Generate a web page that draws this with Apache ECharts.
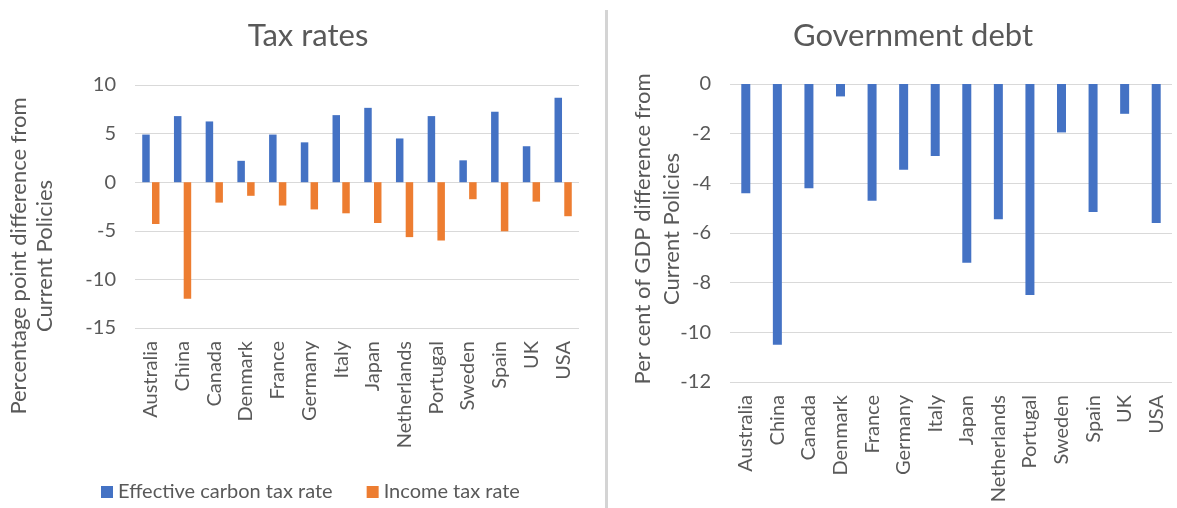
<!DOCTYPE html>
<html>
<head>
<meta charset="utf-8">
<script src="https://cdn.jsdelivr.net/npm/echarts@6/dist/echarts.min.js"></script>
<style>
  html, body { margin: 0; padding: 0; background: #fff; }
  #chart { width: 1177px; height: 508px; }
</style>
</head>
<body>
<div id="chart"></div>
<script>
// Countries shared by both panels
const countries = ['Australia', 'China', 'Canada', 'Denmark', 'France', 'Germany', 'Italy',
  'Japan', 'Netherlands', 'Portugal', 'Sweden', 'Spain', 'UK', 'USA'];

// Tax rates, percentage point difference from Current Policies
const carbonTax = [4.9, 6.8, 6.25, 2.2, 4.9, 4.1, 6.9, 7.65, 4.5, 6.8, 2.25, 7.25, 3.7, 8.7];
const incomeTax = [-4.3, -12.0, -2.1, -1.4, -2.4, -2.8, -3.2, -4.2, -5.65, -6.0, -1.75, -5.05, -2.0, -3.5];

// Government debt, per cent of GDP difference from Current Policies
const govDebt = [-4.4, -10.5, -4.2, -0.5, -4.7, -3.45, -2.9, -7.2, -5.45, -8.5, -1.95, -5.15, -1.2, -5.6];

const seriesNames = ['Effective carbon tax rate', 'Income tax rate'];
const panelTitles = ['Tax rates', 'Government debt'];
const axisTitles = [
  'Percentage point difference from\nCurrent Policies',
  'Per cent of GDP difference from\nCurrent Policies'
];

const BLUE = '#4472C4';
const ORANGE = '#ED7D31';
const TEXT = '#595959';
const FONT = 'Lato';

const chart = echarts.init(document.getElementById('chart'), null, { renderer: 'canvas' });

const catAxis = (gridIndex) => ({
  type: 'category',
  gridIndex,
  data: countries,
  axisLine: { show: false, onZero: false },
  axisTick: { show: false },
  axisLabel: { rotate: 90, color: TEXT, fontSize: 20, fontFamily: FONT, margin: 13, interval: 0 },
  splitLine: { show: false }
});

const valAxis = (gridIndex, min, max, interval) => ({
  type: 'value',
  gridIndex,
  min, max, interval,
  axisLine: { show: false },
  axisTick: { show: false },
  axisLabel: { color: TEXT, fontSize: 20, fontFamily: FONT, margin: 19 },
  splitLine: { lineStyle: { color: '#d9d9d9', width: 1 } }
});

chart.setOption({
  backgroundColor: '#ffffff',
  animation: false,
  textStyle: { fontFamily: FONT },
  title: [
    { text: panelTitles[0], left: 303, top: 15, textAlign: 'center',
      textStyle: { fontSize: 31, fontWeight: 'normal', color: TEXT, fontFamily: FONT } },
    { text: panelTitles[1], left: 908, top: 15, textAlign: 'center',
      textStyle: { fontSize: 31, fontWeight: 'normal', color: TEXT, fontFamily: FONT } }
  ],
  legend: {
    data: seriesNames,
    left: 96,
    top: 477,
    icon: 'rect',
    itemWidth: 12,
    itemHeight: 12,
    itemGap: 34,
    textStyle: { color: TEXT, fontSize: 20, fontFamily: FONT }
  },
  grid: [
    { left: 135, top: 85, width: 444, height: 243 },
    { left: 730, top: 84, width: 442, height: 298 }
  ],
  xAxis: [catAxis(0), catAxis(1)],
  yAxis: [valAxis(0, -15, 10, 5), valAxis(1, -12, 0, 2)],
  series: [
    { name: seriesNames[0], type: 'bar', xAxisIndex: 0, yAxisIndex: 0, data: carbonTax,
      itemStyle: { color: BLUE }, barWidth: 7.5, barGap: '30%' },
    { name: seriesNames[1], type: 'bar', xAxisIndex: 0, yAxisIndex: 0, data: incomeTax,
      itemStyle: { color: ORANGE }, barWidth: 7.5, barGap: '30%' },
    { name: 'Government debt', type: 'bar', xAxisIndex: 1, yAxisIndex: 1, data: govDebt,
      itemStyle: { color: BLUE }, barWidth: 9 }
  ],
  graphic: [
    // divider between the two panels
    { type: 'rect', left: 605, top: 10, shape: { width: 3, height: 498 },
      style: { fill: '#d4d4d4' }, silent: true },
    // rotated axis titles
    { type: 'text', x: 32, y: 256, rotation: Math.PI / 2,
      style: { text: axisTitles[0], fill: TEXT, fontSize: 22, fontFamily: FONT,
        align: 'center', verticalAlign: 'middle', lineHeight: 26 } },
    { type: 'text', x: 657, y: 229, rotation: Math.PI / 2,
      style: { text: axisTitles[1], fill: TEXT, fontSize: 22, fontFamily: FONT,
        align: 'center', verticalAlign: 'middle', lineHeight: 29 } }
  ]
});
</script>
</body>
</html>
